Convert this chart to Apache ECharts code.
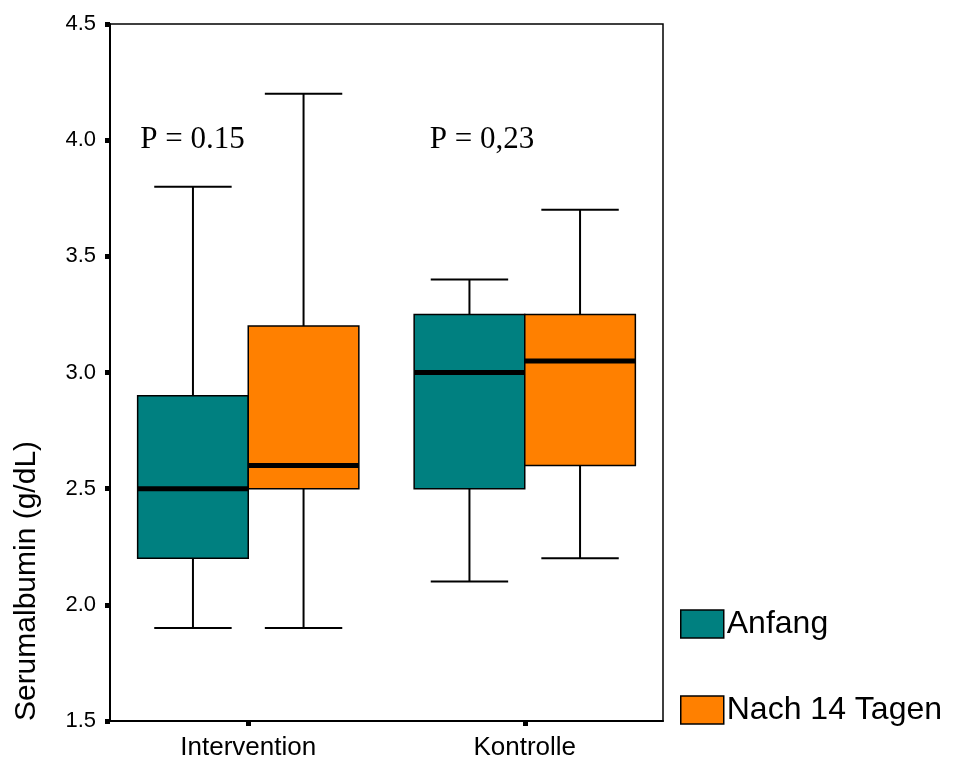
<!DOCTYPE html>
<html>
<head>
<meta charset="utf-8">
<script src="https://cdn.jsdelivr.net/npm/echarts@6/dist/echarts.min.js"></script>
<style>
html,body{margin:0;padding:0;background:#fff;}
#main{width:957px;height:769px;}
</style>
</head>
<body>
<div id="main"></div>
<script>
// ---- data ----
const categories = ['Intervention', 'Kontrolle'];
const seriesNames = ['Anfang', 'Nach 14 Tagen'];
// [categoryIndex, min, Q1, median, Q3, max]
const anfangBoxes = [
  [0, 1.9, 2.2, 2.5, 2.9, 3.8],
  [1, 2.1, 2.5, 3.0, 3.25, 3.4]
];
const nachBoxes = [
  [0, 1.9, 2.5, 2.6, 3.2, 4.2],
  [1, 2.2, 2.6, 3.05, 3.25, 3.7]
];
const pLabels = [
  [0, 4.0, 'P = 0.15'],
  [1, 4.0, 'P = 0,23']
];
const yTicks = [1.5, 2.0, 2.5, 3.0, 3.5, 4.0, 4.5];
const yAxisTitle = 'Serumalbumin (g/dL)';
const colors = ['#008080', '#FF8000'];
// pixel offsets of the P-labels' left edges from their category centre (style only)
const pOffsets = [-108, -95];

const chart = echarts.init(document.getElementById('main'));

function makeRender(side, color) {
  return function (params, api) {
    const cat = api.value(0);
    const band = api.size([1, 0])[0];
    const bw = band * 0.4;
    const c = api.coord([cat, api.value(3)]);
    const cx = c[0];
    const x0 = side === 0 ? cx - bw : cx;
    const mid = x0 + bw / 2;
    const yMin = api.coord([cat, api.value(1)])[1];
    const yQ1 = api.coord([cat, api.value(2)])[1];
    const yMed = api.coord([cat, api.value(3)])[1];
    const yQ3 = api.coord([cat, api.value(4)])[1];
    const yMax = api.coord([cat, api.value(5)])[1];
    const capHalf = bw * 0.35;
    const lineStyle = { stroke: '#000', lineWidth: 2 };
    return {
      type: 'group',
      children: [
        { type: 'line', shape: { x1: mid, y1: yQ3, x2: mid, y2: yMax }, style: lineStyle },
        { type: 'line', shape: { x1: mid - capHalf, y1: yMax, x2: mid + capHalf, y2: yMax }, style: lineStyle },
        { type: 'line', shape: { x1: mid, y1: yQ1, x2: mid, y2: yMin }, style: lineStyle },
        { type: 'line', shape: { x1: mid - capHalf, y1: yMin, x2: mid + capHalf, y2: yMin }, style: lineStyle },
        { type: 'rect', shape: { x: x0, y: yQ3, width: bw, height: yQ1 - yQ3 },
          style: { fill: color, stroke: '#000', lineWidth: 1.5 } },
        { type: 'line', shape: { x1: x0, y1: yMed, x2: x0 + bw, y2: yMed },
          style: { stroke: '#000', lineWidth: 5 } }
      ]
    };
  };
}

function pRender(params, api) {
  const cat = api.value(0);
  const p = api.coord([cat, api.value(1)]);
  return {
    type: 'text',
    x: p[0] + pOffsets[params.dataIndex],
    y: p[1],
    style: {
      text: pLabels[params.dataIndex][2],
      fill: '#000',
      font: '31px "Liberation Serif", "Times New Roman", serif',
      textAlign: 'left',
      textVerticalAlign: 'middle'
    }
  };
}

const option = {
  animation: false,
  backgroundColor: '#fff',
  grid: {
    left: 110, right: 294, top: 24, bottom: 48,
    show: true, borderColor: '#000', borderWidth: 1.5, backgroundColor: 'transparent'
  },
  legend: {
    orient: 'vertical',
    left: 675, top: 603,
    itemWidth: 43, itemHeight: 28, itemGap: 54,
    icon: 'rect',
    selectedMode: false,
    textStyle: { color: '#000', fontSize: 32, fontFamily: 'Liberation Sans, Arial, sans-serif', padding: [0, 0, 0, -2] },
    data: [
      { name: seriesNames[0], itemStyle: { color: colors[0], borderColor: '#000', borderWidth: 1.5 } },
      { name: seriesNames[1], itemStyle: { color: colors[1], borderColor: '#000', borderWidth: 1.5 } }
    ]
  },
  xAxis: {
    type: 'category',
    data: categories,
    boundaryGap: true,
    axisLine: { show: true, lineStyle: { color: '#000', width: 2 } },
    axisTick: { show: true, alignWithLabel: true, length: 5, lineStyle: { color: '#000', width: 5 } },
    axisLabel: { color: '#000', fontSize: 26, fontFamily: 'Liberation Sans, Arial, sans-serif', margin: 14 },
    splitLine: { show: false }
  },
  yAxis: {
    type: 'value',
    min: yTicks[0], max: yTicks[yTicks.length - 1], interval: 0.5,
    axisLine: { show: true, lineStyle: { color: '#000', width: 2 } },
    axisTick: { show: true, length: 5, lineStyle: { color: '#000', width: 5 } },
    axisLabel: { color: '#000', fontSize: 22, fontFamily: 'Liberation Sans, Arial, sans-serif', margin: 14,
      formatter: v => v.toFixed(1) },
    splitLine: { show: false }
  },
  graphic: [
    { type: 'text', x: 27, y: 581, rotation: Math.PI / 2,
      style: { text: yAxisTitle, fill: '#000', font: '30px "Liberation Sans", Arial, sans-serif',
        textAlign: 'center', textVerticalAlign: 'middle' } }
  ],
  series: [
    { name: seriesNames[0], type: 'custom', itemStyle: { color: colors[0] },
      encode: { x: 0, y: [1, 2, 3, 4, 5] }, renderItem: makeRender(0, colors[0]), data: anfangBoxes, z: 3 },
    { name: seriesNames[1], type: 'custom', itemStyle: { color: colors[1] },
      encode: { x: 0, y: [1, 2, 3, 4, 5] }, renderItem: makeRender(1, colors[1]), data: nachBoxes, z: 3 },
    { name: 'p', type: 'custom', encode: { x: 0, y: 1 }, renderItem: pRender,
      data: pLabels.map(d => [d[0], d[1]]), z: 4 }
  ]
};
chart.setOption(option);
</script>
</body>
</html>
